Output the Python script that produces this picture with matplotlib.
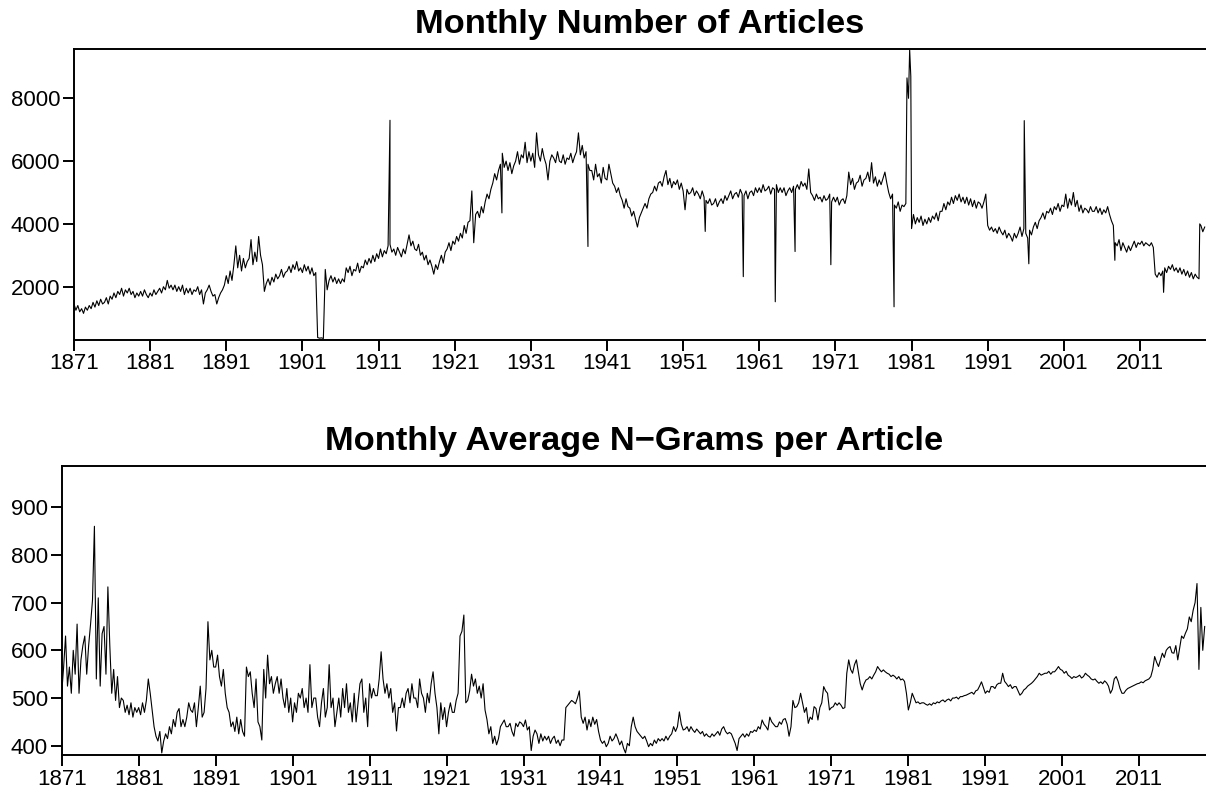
import numpy as np
import matplotlib.pyplot as plt

plt.rcParams['font.family'] = ['Liberation Sans', 'DejaVu Sans']

# quarterly readings (Jan, Apr, Jul, Oct) of the monthly article counts, 1871 - 2019
articles = [
    1450, 1250, 1400, 1200,  1300, 1150, 1350, 1250,  1400, 1300, 1500, 1350,  # 1871-73
    1550, 1400, 1600, 1450,  1500, 1650, 1450, 1700,  1600, 1800, 1650, 1850,  # 1874-76
    1750, 1950, 1700, 1900,  1800, 1950, 1750, 1850,  1650, 1800, 1700, 1850,  # 1877-79
    1700, 1900, 1750, 1650,  1800, 1700, 1900, 1750,  1850, 1950, 1800, 2000,  # 1880-82
    1900, 2200, 1950, 2050,  1900, 2050, 1850, 2000,  1850, 2050, 1750, 1950,  # 1883-85
    1800, 1950, 1750, 1900,  1850, 2000, 1750, 1900,  1450, 1800, 1900, 2050,  # 1886-88
    1850, 1700, 1750, 1450,  1650, 1800, 1900, 2050,  2350, 2100, 2500, 2200,  # 1889-91
    2700, 3300, 2600, 3000,  2500, 2900, 2600, 2800,  2900, 3500, 2700, 3100,  # 1892-94
    2800, 3600, 3000, 2700,  1850, 2100, 2250, 2050,  2300, 2150, 2400, 2250,  # 1895-97
    2350, 2550, 2300, 2450,  2500, 2650, 2450, 2700,  2550, 2800, 2500, 2600,  # 1898-1900
    2450, 2700, 2500, 2650,  2400, 2600, 2350, 2450,  380, 360, 370, 350,      # 1901-03
    2550, 1900, 2200, 2350,  2150, 2300, 2100, 2250,  2100, 2250, 2150, 2600,  # 1904-06
    2450, 2650, 2350, 2550,  2500, 2750, 2450, 2650,  2600, 2850, 2700, 2900,  # 1907-09
    2750, 3000, 2800, 3050,  2900, 3200, 2950, 3150,  3050, 3300, 3350, 3100,  # 1910-12
    3200, 3000, 3250, 3100,  2950, 3200, 3050, 3350,  3650, 3300, 3450, 3200,  # 1913-15
    3150, 3350, 3000, 3100,  2850, 3000, 2700, 2850,  2650, 2400, 2700, 2550,  # 1916-18
    2800, 3000, 2750, 3100,  3200, 3400, 3150, 3450,  3350, 3600, 3450, 3700,  # 1919-21
    3550, 3950, 3700, 4050,  4100, 5050, 3400, 4300,  4400, 4200, 4550, 4350,  # 1922-24
    4700, 4950, 4800, 5100,  5300, 5600, 5400, 5700,  5900, 6250, 5800, 6000,  # 1925-27
    5700, 5950, 5600, 5850,  6000, 6300, 5900, 6200,  6100, 6600, 5950, 6300,  # 1928-30
    6000, 6250, 5800, 6900,  6200, 6000, 6400, 6100,  5900, 5400, 6000, 6200,  # 1931-33
    6100, 5950, 6300, 6000,  5950, 6200, 5900, 6100,  6050, 6250, 5950, 6150,  # 1934-36
    6300, 6900, 6200, 6500,  6100, 6300, 5900, 5700,  5700, 5400, 5900, 5500,  # 1937-39
    5600, 5300, 5800, 5450,  5400, 5900, 5600, 5300,  5200, 5000, 5150, 4900,  # 1940-42
    4750, 4500, 4800, 4550,  4500, 4250, 4400, 4150,  3900, 4200, 4350, 4500,  # 1943-45
    4650, 4500, 4800, 4950,  5000, 5200, 5050, 5300,  5350, 5200, 5500, 5700,  # 1946-48
    5250, 5450, 5150, 5350,  5250, 5400, 5100, 5300,  5050, 4450, 5100, 4950,  # 1949-51
    5000, 5150, 4900, 5050,  4950, 4800, 5050, 4850,  4750, 4650, 4800, 4600,  # 1952-54
    4650, 4800, 4550, 4700,  4800, 4650, 4900, 4750,  4900, 5050, 4800, 4950,  # 1955-57
    5000, 4850, 5100, 4950,  4900, 5050, 4800, 5000,  5050, 4900, 5150, 5000,  # 1958-60
    5150, 5000, 5250, 5050,  5100, 5200, 4950, 5150,  5100, 5250, 5000, 5150,  # 1961-63
    5000, 5150, 4900, 5050,  5150, 5000, 5200, 5100,  5250, 5100, 5350, 5200,  # 1964-66
    5300, 5100, 5750, 5000,  4900, 4750, 4950, 4800,  4850, 4700, 4900, 4750,  # 1967-69
    4800, 4950, 4700, 4850,  4700, 4850, 4600, 4750,  4800, 4650, 4900, 5650,  # 1970-72
    5250, 5450, 5100, 5300,  5350, 5550, 5200, 5400,  5450, 5650, 5350, 5950,  # 1973-75
    5300, 5500, 5200, 5400,  5250, 5450, 5650, 5300,  5000, 4800, 4950, 4600,  # 1976-78
    4500, 4700, 4400, 4600,  4550, 4650, 8300, 9550,  3850, 4300, 4000, 4200,  # 1979-81
    4050, 4250, 3950, 4150,  4000, 4200, 4050, 4250,  4150, 4350, 4100, 4400,  # 1982-84
    4400, 4650, 4450, 4700,  4600, 4850, 4650, 4900,  4750, 4950, 4700, 4850,  # 1985-87
    4650, 4850, 4600, 4800,  4550, 4750, 4500, 4700,  4650, 4500, 4700, 4950,  # 1988-90
    3950, 3800, 3900, 3750,  3850, 3700, 3900, 3750,  3650, 3800, 3550, 3700,  # 1991-93
    3600, 3450, 3700, 3550,  3700, 3900, 3600, 3850,  3700, 3550, 3800, 3650,  # 1994-96
    3900, 4050, 3850, 4100,  4200, 4350, 4150, 4400,  4350, 4500, 4300, 4550,  # 1997-99
    4450, 4650, 4400, 4600,  4550, 4950, 4500, 4800,  4600, 5000, 4550, 4750,  # 2000-02
    4400, 4600, 4350, 4500,  4450, 4350, 4550, 4400,  4400, 4550, 4350, 4500,  # 2003-05
    4300, 4450, 4350, 4550,  4300, 4100, 3950, 3400,  3300, 3500, 3150, 3400,  # 2006-08
    3250, 3100, 3300, 3150,  3300, 3450, 3250, 3400,  3350, 3450, 3300, 3400,  # 2009-11
    3350, 3300, 3400, 3250,  2400, 2300, 2450, 2350,  2500, 2600, 2450, 2650,  # 2012-14
    2550, 2700, 2500, 2600,  2450, 2600, 2400, 2550,  2350, 2500, 2300, 2450,  # 2015-17
    2250, 2400, 2300, 2250,  3950, 3750, 3900,                                # 2018-19
]

# single-month outliers in the article counts
article_spike_years = [1912.5, 1927.2, 1938.5, 1953.9, 1958.9, 1963.1, 1965.7, 1970.4,
                       1978.7, 1980.4, 1980.6, 1980.9, 1995.8, 1996.4, 2007.7, 2014.1, 2018.85]
article_spike_values = [7300, 4350, 3280, 3760, 2320, 1520, 3120, 2700,
                        1360, 8650, 8000, 8700, 7290, 2730, 2840, 1820, 4000]

# quarterly readings of the monthly average n-grams per article
ngrams = [
    510, 565, 630, 525,  565, 510, 600, 550,  655, 510, 580, 610,  # 1871-73
    630, 550, 610, 655,  705, 860, 540, 710,  525, 635, 650, 550,  # 1874-76
    733, 610, 510, 560,  495, 545, 480, 500,  495, 470, 485, 465,  # 1877-79
    490, 460, 480, 470,  480, 465, 490, 470,  495, 540, 510, 475,  # 1880-82
    440, 420, 410, 430,  385, 410, 425, 415,  440, 425, 455, 440,  # 1883-85
    470, 478, 440, 455,  440, 460, 490, 475,  470, 490, 440, 480,  # 1886-88
    525, 460, 470, 520,  660, 580, 600, 565,  565, 590, 545, 525,  # 1889-91
    560, 510, 480, 470,  440, 450, 430, 460,  425, 455, 430, 420,  # 1892-94
    565, 545, 555, 510,  480, 540, 450, 440,  412, 560, 500, 590,  # 1895-97
    530, 545, 510, 530,  545, 510, 540, 500,  480, 520, 470, 500,  # 1898-1900
    450, 490, 470, 510,  500, 520, 480, 500,  470, 570, 480, 500,  # 1901-03
    500, 460, 440, 490,  520, 460, 480, 570,  480, 500, 440, 470,  # 1904-06
    500, 460, 520, 480,  530, 470, 490, 450,  510, 450, 490, 530,  # 1907-09
    540, 470, 500, 440,  530, 500, 520, 505,  505, 540, 597, 540,  # 1910-12
    510, 530, 500, 520,  470, 490, 431, 480,  480, 500, 480, 510,  # 1913-15
    520, 490, 530, 500,  500, 480, 540, 510,  500, 470, 510, 490,  # 1916-18
    530, 555, 510, 480,  425, 490, 455, 480,  440, 470, 490, 470,  # 1919-21
    470, 495, 510, 630,  640, 674, 490, 495,  515, 550, 525, 540,  # 1922-24
    510, 525, 500, 530,  475, 455, 425, 440,  405, 420, 402, 415,  # 1925-27
    440, 447, 454, 440,  440, 447, 430, 420,  447, 440, 450, 447,  # 1928-30
    440, 454, 433, 440,  390, 420, 433, 425,  405, 425, 410, 420,  # 1931-33
    412, 420, 405, 415,  420, 405, 412, 400,  412, 412, 480, 485,  # 1934-36
    490, 495, 492, 488,  500, 515, 460, 447,  460, 433, 455, 440,  # 1937-39
    460, 445, 455, 430,  412, 405, 410, 398,  405, 420, 410, 415,  # 1940-42
    425, 415, 402, 410,  395, 385, 405, 400,  440, 460, 440, 430,  # 1943-45
    425, 420, 415, 420,  410, 398, 405, 400,  412, 405, 415, 410,  # 1946-48
    415, 410, 420, 412,  420, 425, 440, 430,  440, 471, 445, 433,  # 1949-51
    435, 440, 430, 440,  433, 428, 435, 430,  425, 430, 420, 425,  # 1952-54
    420, 418, 425, 420,  425, 430, 422, 435,  440, 430, 425, 428,  # 1955-57
    425, 415, 405, 390,  415, 420, 425, 418,  425, 420, 430, 428,  # 1958-60
    433, 430, 440, 435,  454, 445, 440, 433,  460, 450, 445, 440,  # 1961-63
    440, 450, 445, 455,  457, 445, 420, 440,  495, 480, 482, 490,  # 1964-66
    510, 490, 470, 480,  447, 460, 455, 482,  478, 454, 480, 490,  # 1967-69
    524, 515, 510, 475,  480, 482, 490, 485,  490, 485, 478, 480,  # 1970-72
    552, 580, 560, 552,  570, 580, 555, 530,  517, 530, 538, 540,  # 1973-75
    545, 540, 548, 555,  566, 560, 555, 559,  555, 552, 550, 545,  # 1976-78
    548, 545, 540, 545,  538, 540, 535, 510,  475, 490, 510, 500,  # 1979-81
    490, 492, 488, 490,  490, 487, 485, 488,  485, 490, 488, 492,  # 1982-84
    490, 494, 496, 492,  496, 498, 494, 500,  500, 502, 498, 503,  # 1985-87
    503, 505, 506, 508,  510, 512, 508, 515,  517, 525, 534, 522,  # 1988-90
    510, 515, 512, 524,  524, 520, 528, 531,  531, 552, 535, 530,  # 1991-93
    524, 528, 520, 524,  524, 515, 506, 510,  517, 520, 525, 528,  # 1994-96
    531, 535, 540, 545,  552, 548, 550, 552,  552, 556, 550, 555,  # 1997-99
    555, 560, 566, 560,  558, 552, 556, 548,  545, 541, 545, 543,  # 2000-02
    545, 548, 542, 545,  552, 548, 545, 540,  538, 540, 535, 531,  # 2003-05
    534, 530, 536, 532,  525, 510, 518, 540,  545, 535, 520, 510,  # 2006-08
    510, 516, 520, 522,  524, 526, 528, 530,  531, 534, 532, 536,  # 2009-11
    538, 540, 545, 560,  587, 575, 566, 580,  594, 585, 600, 605,  # 2012-14
    608, 595, 594, 610,  580, 605, 630, 625,  636, 645, 670, 660,  # 2015-17
    684, 700, 740, 560,  690, 600, 650,                            # 2018-19
]

x_ticks = list(range(1871, 2012, 10))
art_yticks = [2000, 4000, 6000, 8000]
ng_yticks = [400, 500, 600, 700, 800, 900]


def series(vals, extra_t=(), extra_v=()):
    t = 1871 + np.arange(len(vals)) / 4.0
    t = np.concatenate([t, extra_t])
    v = np.concatenate([np.asarray(vals, float), extra_v])
    order = np.argsort(t)
    return t[order], v[order]


def style(ax):
    ax.spines['right'].set_visible(False)
    for s in ['left', 'top', 'bottom']:
        ax.spines[s].set_linewidth(1.4)
    ax.tick_params(direction='out', length=8, width=1.4, labelsize=16, pad=2)
    ax.set_xticks(x_ticks)
    ax.set_xlim(1871, 2019.67)


fig = plt.figure(figsize=(12.06, 7.95), dpi=100)
W, H = 1206, 795

ax1 = fig.add_axes([74 / W, 1 - 339.5 / H, (W - 74) / W, (339.5 - 49.3) / H])
t1, v1 = series(articles, article_spike_years, article_spike_values)
ax1.plot(t1, v1, color='black', lw=0.8)
style(ax1)
ax1.set_yticks(art_yticks)
ax1.set_ylim(318, 9561)
ax1.set_title('Monthly Number of Articles', fontsize=24.8, fontweight='bold', pad=11.5)

ax2 = fig.add_axes([61.7 / W, 1 - 755.3 / H, (W - 61.7) / W, (755.3 - 465.7) / H])
t2, v2 = series(ngrams)
ax2.plot(t2, v2, color='black', lw=0.8)
style(ax2)
ax2.set_yticks(ng_yticks)
ax2.set_ylim(380, 987)
ax2.set_title('Monthly Average N\u2212Grams per Article', fontsize=24.8, fontweight='bold', pad=11.5)

fig.savefig('out.png', dpi=100)
